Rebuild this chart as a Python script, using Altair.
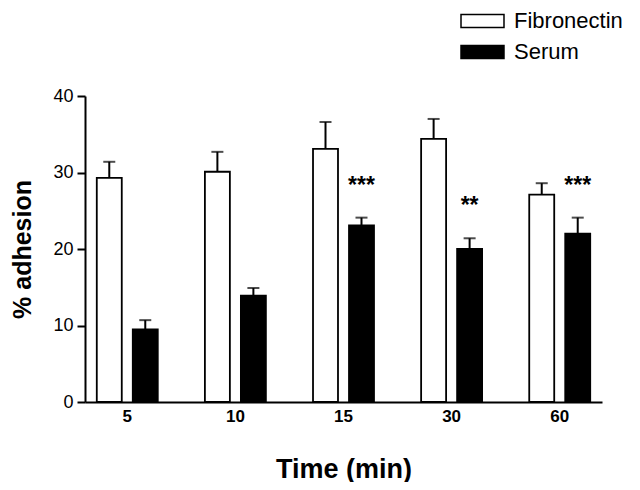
import altair as alt
import pandas as pd

times = ["5", "10", "15", "30", "60"]
groups = ["Fibronectin", "Serum"]
fib_mean = [29.3, 30.1, 33.1, 34.4, 27.1]
fib_sem = [2.1, 2.6, 3.5, 2.6, 1.5]
serum_mean = [9.5, 13.9, 23.1, 20.0, 22.0]
serum_sem = [1.2, 1.0, 1.0, 1.4, 2.1]
serum_stars = ["", "", "***", "**", "***"]

rows = []
for i, t in enumerate(times):
    rows.append({"time": t, "group": "Fibronectin", "mean": fib_mean[i], "sem": fib_sem[i], "stars": ""})
    rows.append({"time": t, "group": "Serum", "mean": serum_mean[i], "sem": serum_sem[i], "stars": serum_stars[i]})
df = pd.DataFrame(rows)

FONT = "Liberation Sans"

x_enc = alt.X(
    "time:N",
    sort=times,
    scale=alt.Scale(paddingInner=0.436, paddingOuter=0.109),
    axis=alt.Axis(
        labelAngle=0, labelFontSize=17, labelFontWeight="bold", labelColor="black",
        labelFont=FONT, ticks=False, tickSize=0, labelPadding=6,
        domainColor="black", domainWidth=2,
        title="Time (min)", titleFontSize=27, titleFontWeight="bold", titleFont=FONT,
        titleColor="black", titleY=75, titleBaseline="alphabetic",
    ),
)
xoff_enc = alt.XOffset("group:N", sort=groups, scale=alt.Scale(paddingInner=0.306, paddingOuter=0))
y_scale = alt.Scale(domain=[0, 40], nice=False)

base = alt.Chart(df).transform_calculate(upper="datum.mean + datum.sem")

bars = base.mark_bar(stroke="black", strokeWidth=1.8).encode(
    x=x_enc,
    xOffset=xoff_enc,
    y=alt.Y(
        "mean:Q",
        scale=y_scale,
        axis=alt.Axis(
            values=[0, 10, 20, 30, 40], grid=False, tickSize=8, tickWidth=2, tickColor="black",
            domainColor="black", domainWidth=2, labelFontSize=18, labelPadding=4,
            labelColor="black", labelFont=FONT,
            title="% adhesion", titleFontSize=25, titleFontWeight="bold", titleFont=FONT,
            titleColor="black", titleX=-63, titleY=153, titleAngle=270,
            titleAlign="center", titleBaseline="middle",
        ),
    ),
    fill=alt.Fill(
        "group:N",
        scale=alt.Scale(domain=groups, range=["white", "black"]),
        legend=alt.Legend(
            title=None, orient="none", legendX=381.5, legendY=-91, padding=0, offset=0,
            symbolType="M-1.433,-0.433L1.433,-0.433L1.433,0.433L-1.433,0.433Z",
            symbolSize=900, symbolStrokeColor="black", symbolStrokeWidth=1.5,
            labelFontSize=22, labelFont=FONT, labelColor="black", labelOffset=15.5,
            rowPadding=4,
        ),
    ),
)

err_line = base.mark_rule(color="black", strokeWidth=2).encode(
    x=x_enc, xOffset=xoff_enc, y=alt.Y("mean:Q", scale=y_scale), y2="upper:Q"
)
err_cap = base.mark_tick(color="black", thickness=2, size=12, orient="horizontal").encode(
    x=x_enc, xOffset=xoff_enc, y=alt.Y("upper:Q", scale=y_scale)
)
stars = base.mark_text(
    fontSize=23, font=FONT, fontWeight="bold", color="black", baseline="alphabetic", dy=-25
).encode(
    x=x_enc, xOffset=xoff_enc, y=alt.Y("upper:Q", scale=y_scale), text="stars:N"
)

chart = alt.layer(bars, err_line, err_cap, stars).properties(
    width=517, height=306,
    autosize=alt.AutoSizeParams(type="none"),
    padding={"left": 77, "top": 88, "right": 30, "bottom": 80},
).configure_view(stroke=None)

chart.save("out.html", embed_options={"renderer": "svg", "actions": False})
